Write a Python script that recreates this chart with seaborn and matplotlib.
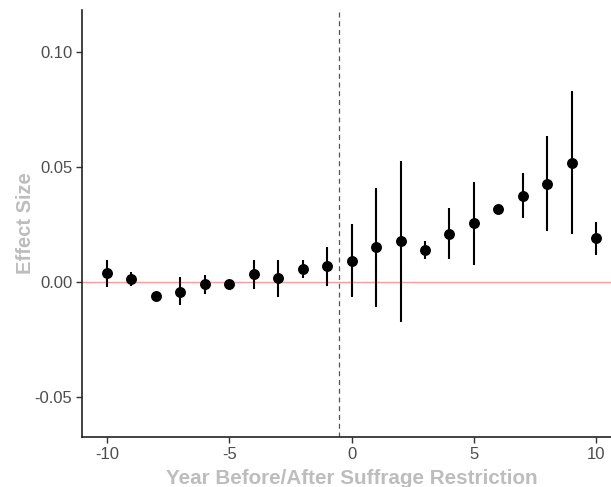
import matplotlib
matplotlib.use("Agg")
import matplotlib.pyplot as plt
import seaborn as sns
import pandas as pd

years = [-10, -9, -8, -7, -6, -5, -4, -3, -2, -1, 0, 1, 2, 3, 4, 5, 6, 7, 8, 9, 10]
effect = [0.0038, 0.0013, -0.0061, -0.0042, -0.0010, -0.0009, 0.0033, 0.0016, 0.0055, 0.0070,
          0.0093, 0.0152, 0.0180, 0.0139, 0.0210, 0.0257, 0.0317, 0.0374, 0.0428, 0.0519, 0.0190]
ci_low = [-0.0020, -0.0016, -0.0070, -0.0100, -0.0052, -0.0018, -0.0029, -0.0064, 0.0016, -0.0016,
          -0.0065, -0.0107, -0.0172, 0.0099, 0.0099, 0.0074, 0.0307, 0.0277, 0.0222, 0.0210, 0.0117]
ci_high = [0.0096, 0.0042, -0.0052, 0.0020, 0.0032, 0.0000, 0.0096, 0.0096, 0.0096, 0.0154,
           0.0251, 0.0410, 0.0528, 0.0178, 0.0323, 0.0436, 0.0327, 0.0473, 0.0635, 0.0830, 0.0261]
x_ticks = [-10, -5, 0, 5, 10]
y_ticks = [-0.05, 0.00, 0.05, 0.10]
y_tick_labels = ["-0.05", "0.00", "0.05", "0.10"]

df = pd.DataFrame({"year": years, "effect": effect, "lo": ci_low, "hi": ci_high})

sns.set_style("white")
plt.rcParams["font.family"] = ["Liberation Sans", "DejaVu Sans"]

fig = plt.figure(figsize=(6.11, 4.87), dpi=100)
ax = fig.add_axes([0.134, 0.1027, 0.866, 0.8768])

ax.axhline(0, color="#ff9999", lw=1.0, zorder=1)
ax.axvline(-0.5, color="#555555", lw=0.9, ls=(0, (4, 3)), zorder=1)
ax.vlines(df["year"], df["lo"], df["hi"], color="black", lw=1.5, zorder=2)
sns.scatterplot(data=df, x="year", y="effect", ax=ax, color="black", s=62,
                edgecolor="black", linewidth=0, zorder=3, legend=False)

ax.set_xlim(-11.02, 10.6)
ax.set_ylim(-0.0674, 0.1183)
ax.set_xticks(x_ticks)
ax.set_xticklabels([str(t) for t in x_ticks])
ax.set_yticks(y_ticks)
ax.set_yticklabels(y_tick_labels)

for side in ["top", "right"]:
    ax.spines[side].set_visible(False)
for side in ["left", "bottom"]:
    ax.spines[side].set_color("#222222")
    ax.spines[side].set_linewidth(1.2)

ax.tick_params(axis="both", which="both", direction="out", length=4, width=1,
               color="#333333", labelsize=12, labelcolor="#4d4d4d", pad=3,
               left=True, bottom=True)

ax.set_xlabel("Year Before/After Suffrage Restriction", fontsize=14.9,
              fontweight="bold", color="#bdbdbd", labelpad=4)
ax.xaxis.set_label_coords(0.51, -0.075)
ax.set_ylabel("Effect Size", fontsize=14.5, fontweight="bold", color="#bdbdbd",
              labelpad=4)
ax.yaxis.set_label_coords(-0.088, 0.5)

fig.savefig("out.png", dpi=100)
